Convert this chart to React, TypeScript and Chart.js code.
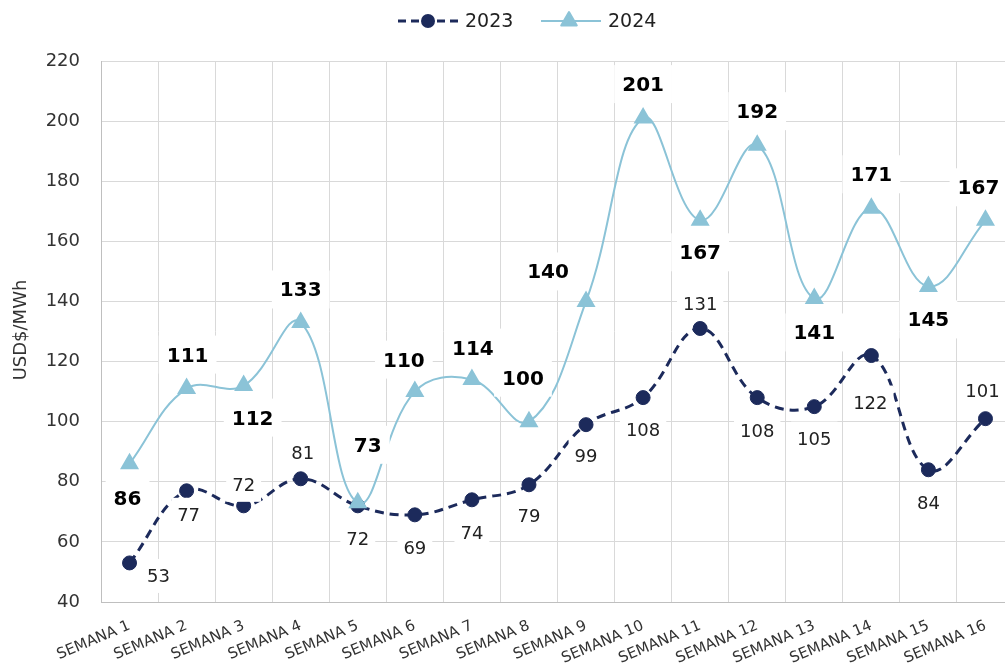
import React, { useEffect, useRef } from "react";
import { Chart, registerables } from "chart.js";

Chart.register(...registerables);

const categories = [
  "SEMANA 1", "SEMANA 2", "SEMANA 3", "SEMANA 4", "SEMANA 5", "SEMANA 6",
  "SEMANA 7", "SEMANA 8", "SEMANA 9", "SEMANA 10", "SEMANA 11", "SEMANA 12",
  "SEMANA 13", "SEMANA 14", "SEMANA 15", "SEMANA 16",
];
const values2023 = [53, 77, 72, 81, 72, 69, 74, 79, 99, 108, 131, 108, 105, 122, 84, 101];
const values2024 = [86, 111, 112, 133, 73, 110, 114, 100, 140, 201, 167, 192, 141, 171, 145, 167];
const yTicks = [40, 60, 80, 100, 120, 140, 160, 180, 200, 220];

// label placement (pixel offsets from each point), kept separate from the data
const labelOffsets2023: [number, number][] = [
  [29, 13], [2, 24], [0, -21], [2, -26], [0, 33], [0, 33], [0, 33], [0, 31],
  [0, 31], [0, 32], [0, -25], [0, 33], [0, 32], [-1, 47], [0, 33], [-3, -28],
];
const labelOffsets2024: [number, number][] = [
  [-2, 34], [1, -34], [9, 32], [0, -33], [10, -58], [-11, -32], [1, -32], [-6, -44],
  [-38, -30], [0, -34], [0, 32], [0, -34], [0, 34], [0, -34], [0, 33], [-7, -33],
];

const FONT = "'DejaVu Sans', sans-serif";
const NAVY = "#1C2A5B";
const LIGHT = "#8BC3D7";

const labelCfg = [
  { offsets: labelOffsets2024, font: `bold 20px ${FONT}`, color: "#000", padX: 8, h: 38 },
  { offsets: labelOffsets2023, font: `18px ${FONT}`, color: "#222", padX: 6, h: 34 },
];

const labelPlugin = {
  id: "valueLabels",
  afterDatasetsDraw(chart: any) {
    const ctx = chart.ctx as CanvasRenderingContext2D;
    ctx.save();
    [1, 0].forEach((di) => {
      const meta = chart.getDatasetMeta(di);
      const cfg = labelCfg[di];
      const data = chart.data.datasets[di].data as number[];
      meta.data.forEach((pt: any, i: number) => {
        const [dx, dy] = cfg.offsets[i];
        const x = pt.x + dx;
        const y = pt.y + dy;
        const text = String(data[i]);
        ctx.font = cfg.font;
        const m = ctx.measureText(text);
        const w = m.width;
        const cap = m.actualBoundingBoxAscent;
        ctx.fillStyle = "#fff";
        ctx.fillRect(x - w / 2 - cfg.padX, y - cfg.h / 2, w + cfg.padX * 2, cfg.h);
        ctx.fillStyle = cfg.color;
        ctx.textAlign = "center";
        ctx.textBaseline = "alphabetic";
        ctx.fillText(text, x, y + cap / 2);
      });
    });
    ctx.restore();
  },
};

const decorPlugin = {
  id: "decor",
  afterDraw(chart: any) {
    const ctx = chart.ctx as CanvasRenderingContext2D;
    ctx.save();
    ctx.translate(21, 330);
    ctx.rotate(-Math.PI / 2);
    ctx.font = `18px ${FONT}`;
    ctx.fillStyle = "#333";
    ctx.textAlign = "center";
    ctx.textBaseline = "middle";
    ctx.fillText("USD$/MWh", 0, 0);
    ctx.restore();

    ctx.save();
    const ly = 21;
    ctx.strokeStyle = NAVY;
    ctx.lineWidth = 3;
    ctx.setLineDash([8, 5]);
    ctx.beginPath();
    ctx.moveTo(398, ly);
    ctx.lineTo(458, ly);
    ctx.stroke();
    ctx.setLineDash([]);
    ctx.fillStyle = NAVY;
    ctx.beginPath();
    ctx.arc(428, ly, 7, 0, Math.PI * 2);
    ctx.fill();
    ctx.font = `19px ${FONT}`;
    ctx.fillStyle = "#222";
    ctx.textAlign = "left";
    ctx.textBaseline = "middle";
    ctx.fillText("2023", 465, ly + 1);
    ctx.strokeStyle = LIGHT;
    ctx.lineWidth = 2;
    ctx.beginPath();
    ctx.moveTo(541, ly);
    ctx.lineTo(601, ly);
    ctx.stroke();
    ctx.fillStyle = LIGHT;
    ctx.strokeStyle = LIGHT;
    ctx.lineJoin = "round";
    ctx.beginPath();
    const r = 9;
    const cx = 569;
    for (let k = 0; k < 3; k++) {
      const a = (k * 2 * Math.PI) / 3;
      const px = cx + Math.sin(a) * r;
      const py = ly - Math.cos(a) * r;
      if (k === 0) ctx.moveTo(px, py);
      else ctx.lineTo(px, py);
    }
    ctx.closePath();
    ctx.fill();
    ctx.stroke();
    ctx.fillStyle = "#222";
    ctx.fillText("2024", 608, ly + 1);
    ctx.restore();
  },
};

export default function App() {
  const ref = useRef<HTMLCanvasElement>(null);
  useEffect(() => {
    document.body.style.margin = "0";
    document.body.style.overflow = "hidden";
    const chart = new Chart(ref.current!, {
      type: "line",
      data: {
        labels: categories,
        datasets: [
          {
            label: "2024",
            data: values2024,
            borderColor: LIGHT,
            backgroundColor: LIGHT,
            borderWidth: 2,
            pointStyle: "triangle",
            pointRadius: 9,
            pointBorderWidth: 2,
            pointBorderColor: LIGHT,
            pointBackgroundColor: LIGHT,
            tension: 0.4,
            order: 0,
          },
          {
            label: "2023",
            data: values2023,
            borderColor: NAVY,
            backgroundColor: NAVY,
            borderWidth: 3,
            borderDash: [9, 6],
            pointStyle: "circle",
            pointRadius: 7,
            pointBorderWidth: 1,
            pointBorderColor: NAVY,
            pointBackgroundColor: NAVY,
            tension: 0.4,
            order: 1,
          },
        ],
      },
      options: {
        responsive: false,
        animation: false,
        layout: { autoPadding: false, padding: { top: 61, left: 0, right: 0, bottom: 0 } },
        plugins: {
          legend: { display: false },
          tooltip: { enabled: false },
        },
        scales: {
          x: {
            offset: true,
            grid: { color: "#D9D9D9", lineWidth: 1, drawTicks: false, offset: true },
            border: { color: "#BFBFBF", width: 1 },
            ticks: {
              autoSkip: false,
              minRotation: 23,
              maxRotation: 23,
              padding: 15,
              color: "#333",
              font: { family: FONT, size: 15 },
            },
            afterFit(scale: any) {
              scale.height = 64;
              scale.paddingLeft = 0;
              scale.paddingRight = 0;
            },
          },
          y: {
            min: 40,
            max: 220,
            afterBuildTicks(scale: any) {
              scale.ticks = yTicks.map((v) => ({ value: v }));
            },
            grid: { color: "#D9D9D9", lineWidth: 1, drawTicks: false },
            border: { color: "#BFBFBF", width: 1 },
            ticks: {
              padding: 21,
              color: "#333",
              font: { family: FONT, size: 18 },
            },
            afterFit(scale: any) {
              scale.width = 101;
              scale.paddingTop = 0;
              scale.paddingBottom = 0;
            },
          },
        },
      },
      plugins: [labelPlugin, decorPlugin],
    });
    return () => chart.destroy();
  }, []);
  return (
    <div style={{ position: "absolute", left: 0, top: 0, width: 1005, height: 666, overflow: "hidden", background: "#fff" }}>
      <canvas ref={ref} width={1014} height={666} style={{ display: "block" }} />
    </div>
  );
}
